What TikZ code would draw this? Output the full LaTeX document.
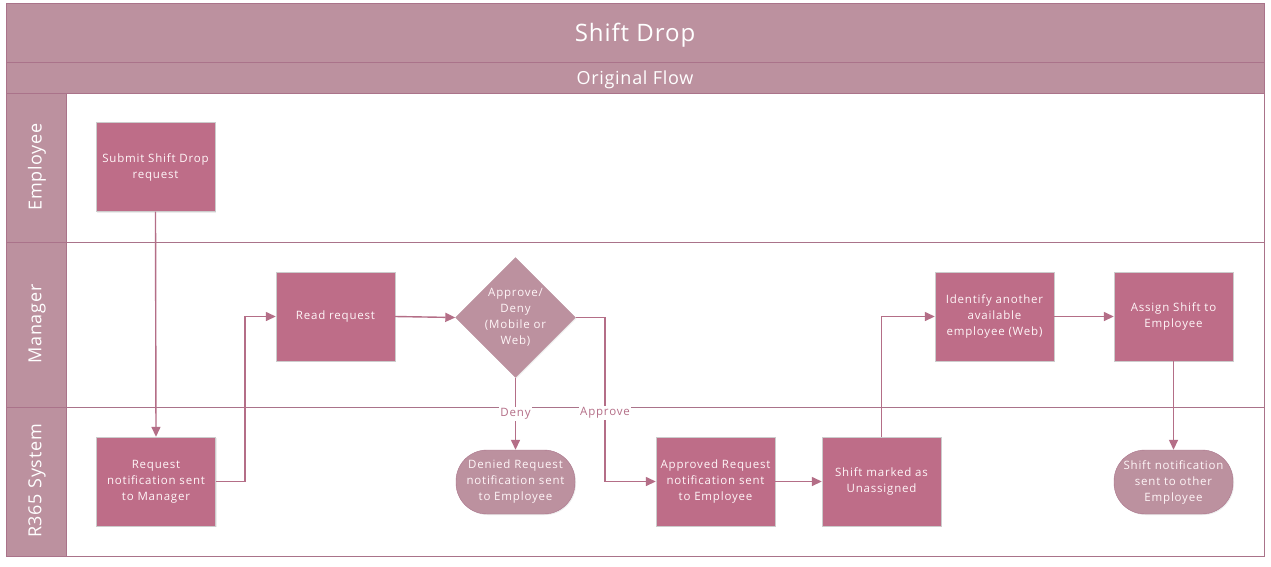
\documentclass[tikz,border=0pt]{standalone}
\usepackage{fontspec}
\setmainfont{Open Sans}[LetterSpace=4]
\newfontfamily\boxfont{Open Sans}[LetterSpace=7]
\usetikzlibrary{arrows.meta,shapes.geometric,shadows}
\definecolor{boxc}{RGB}{190,109,136}
\definecolor{softc}{RGB}{188,145,159}
\definecolor{linec}{RGB}{180,110,135}
\definecolor{framec}{RGB}{170,115,138}
\definecolor{txtc}{RGB}{255,246,248}
\tikzset{
  nodetext/.style={align=center, font=\boxfont\fontsize{11.5}{16}\selectfont, text=txtc},
  proc/.style={nodetext, draw=black!20, fill=boxc, minimum width=119pt, minimum height=89pt, inner sep=1pt, drop shadow={opacity=0.15, shadow xshift=1pt, shadow yshift=-1pt}},
  term/.style={nodetext, draw=framec, fill=softc, rounded corners=31pt, minimum width=119pt, minimum height=64pt, inner sep=1pt, drop shadow={opacity=0.15, shadow xshift=1pt, shadow yshift=-1pt}},
  dec/.style={nodetext, draw=softc, fill=softc, diamond, minimum width=120pt, minimum height=120pt, inner sep=0pt, drop shadow={opacity=0.15, shadow xshift=1pt, shadow yshift=-1pt}},
  flow/.style={draw=linec, line width=1.4pt, -{Triangle[length=10pt,width=9pt]}},
  elabel/.style={fill=white, text=linec, font=\boxfont\fontsize{11.5}{12}\selectfont, inner sep=1.5pt},
  lanelab/.style={rotate=90, text=white, font=\fontsize{18}{20}\selectfont},
  band/.style={fill=softc, draw=framec, line width=1pt},
}
\begin{document}
\begin{tikzpicture}[x=1pt,y=-1pt]
\useasboundingbox (0,0) rectangle (1271,566);
\fill[white] (0,0) rectangle (1271,566);
% header bands
\draw[band] (6,3) rectangle (1264,62);
\draw[band] (6,62) rectangle (1264,93);
\node[text=white, font=\fontsize{24}{26}\selectfont] (title) at (635,35) {Shift Drop};
\node[text=white, font=\fontsize{18}{20}\selectfont] (sub) at (635,79.5) {Original Flow};
% lane label column
\draw[band] (6,93) rectangle (66,242);
\draw[band] (6,242) rectangle (66,407);
\draw[band] (6,407) rectangle (66,556);
\node[lanelab] (l1) at (37,167) {Employee};
\node[lanelab] (l2) at (37,324) {Manager};
\node[lanelab] (l3) at (37,481) {R365 System};
% lanes
\draw[framec, line width=1pt] (66,93) rectangle (1264,556);
\draw[framec, line width=1pt] (66,242) -- (1264,242);
\draw[framec, line width=1pt] (66,407) -- (1264,407);
% nodes
\node[proc] (submit) at (155.5,167) {Submit Shift Drop\\request};
\node[proc] (reqnot) at (156,481.5) {Request\\notification sent\\to Manager};
\node[proc] (read) at (335.5,316.5) {Read request};
\node[dec] (dec) at (515.5,317.5) {Approve/\\Deny\\(Mobile or\\Web)};
\node[term] (denied) at (515.5,482) {Denied Request\\notification sent\\to Employee};
\node[proc] (appr) at (715.5,481.5) {Approved Request\\notification sent\\to Employee};
\node[proc] (unass) at (881.5,481.5) {Shift marked as\\Unassigned};
\node[proc] (ident) at (994.5,316.5) {Identify another\\available\\employee (Web)};
\node[proc] (assign) at (1173.5,316.5) {Assign Shift to\\Employee};
\node[term] (shnot) at (1173.5,482) {Shift notification\\sent to other\\Employee};
% connectors
\draw[flow] (submit.south) -- (reqnot.north);
\draw[flow] (reqnot.east) -- (245,481.5) |- (read.west);
\draw[flow] (read.east) -- (dec.west);
\draw[flow] (dec.south) -- node[elabel, pos=0.5] (dlab) {Deny} (denied.north);
\draw[flow] (dec.east) -- (605,317.5) |- node[elabel, pos=0.29] (alab) {Approve} (appr.west);
\draw[flow] (appr.east) -- (unass.west);
\draw[flow] (unass.north) |- (ident.west);
\draw[flow] (ident.east) -- (assign.west);
\draw[flow] (assign.south) -- (shnot.north);
\end{tikzpicture}
\end{document}
